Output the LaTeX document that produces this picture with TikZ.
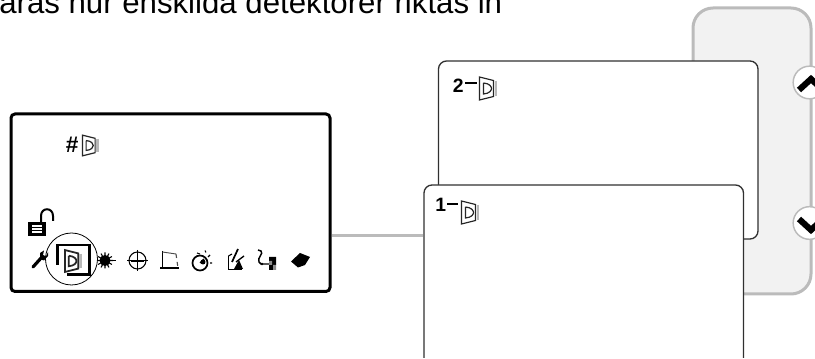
\documentclass[tikz,border=0pt]{standalone}
\usepackage{fontspec}
\setmainfont{Liberation Sans}
\definecolor{panelgray}{HTML}{F2F2F2}
\definecolor{edgegray}{HTML}{BBBBBB}
\definecolor{cardline}{HTML}{303030}
\tikzset{
  px/.style={x=0.75pt,y=-0.75pt},
  panel/.style={draw=black,line width=2.25pt,rounded corners=3pt,fill=white},
  card/.style={draw=cardline,line width=1pt,rounded corners=6pt,fill=white},
  back/.style={draw=edgegray,line width=2.25pt,rounded corners=15pt,fill=panelgray},
  link/.style={draw=edgegray,line width=2.25pt},
  roundbtn/.style={draw=edgegray,line width=1.1pt,fill=white},
  chev/.style={draw=black,line width=4.6pt,line cap=butt,miter limit=10},
  ico/.style={draw=black,line width=0.8pt,fill=none},
  icoh/.style={draw=black,line width=1.9pt,fill=none},
  lbl/.style={inner sep=0pt,font=\bfseries\fontsize{14.5pt}{14.5pt}\selectfont,anchor=base west},
  head/.style={inner sep=0pt,font=\fontsize{23.4pt}{23.4pt}\selectfont,anchor=base west}
}
\newcommand{\detector}[4]{% x,y,scale,line width
  \begin{scope}[shift={(#1,#2)},scale=#3]
    \draw[draw=black!85,line width=#4] (0,-11.5) -- (0,11.5) -- (14,8) -- (14,-8) -- cycle;
    \draw[draw=black!85,line width=#4] (4,-5.5) -- (4,5.5) .. controls (10,5) and (12,2) .. (12,0) .. controls (12,-2) and (10,-5) .. (4,-5.5);
    \draw[draw=black!28,line width=2pt] (16.5,-7.5) -- (16.5,7.5);
  \end{scope}}
\begin{document}
\begin{tikzpicture}[px]
\useasboundingbox (0,0) rectangle (815,359);
\node[head] (title) at (-1,14) {aras hur enskilda detektorer riktas in};
% right stack
\draw[back] (693,8) rectangle (811,294);
\node[roundbtn,circle,minimum size=24.5pt,inner sep=0pt] (up) at (809.5,82.5) {};
\node[roundbtn,circle,minimum size=24.5pt,inner sep=0pt] (down) at (809.5,223) {};
\draw[chev] (799,90) -- (811,79) -- (823,90);
\draw[chev] (799,219) -- (811,230) -- (823,219);
\draw[card] (438.5,61) rectangle (758,239);
\draw[card] (424,358) -- (424,185) -- (743.5,185) -- (743.5,358);
\node[lbl] (two) at (452.5,93) {2};
\node[lbl] (one) at (435,212) {1};
\draw[black,line width=1.5pt] (465,83.5) -- (477,83.5);
\draw[black,line width=1.5pt] (447,204) -- (458,204);
\detector{479.5}{88.5}{1}{0.9pt}
\detector{461.5}{212.5}{1}{0.9pt}
% left panel
\draw[panel] (11,114) rectangle (330,291.5);
\coordinate (linkstart) at (332,236);
\coordinate (linkend) at (423,236);
\draw[link] (linkstart) -- (linkend);
\node[lbl,font=\bfseries\fontsize{17pt}{17pt}\selectfont] (hash) at (65.5,153) {\#};
\detector{82.5}{145.5}{0.9}{0.9pt}
% lock
\fill[black] (28,222) rectangle (46,236);
\draw[white,line width=0.8pt] (32,226) -- (42,226) (32,229) -- (42,229) (32,232) -- (42,232);
\draw[black,line width=1.5pt] (41,222) -- (41,216) .. controls (41,207) and (53,207) .. (53,216) -- (53,221);
% wrench
\draw[black,line width=2.4pt,line cap=round] (33,267) -- (42,257);
\fill[black] (40,259) -- (40,253) -- (44,250.5) -- (43,255) -- (46,256.5) -- (48,252) -- (48,256) -- (44,260.5) -- cycle;
% highlight circle and icon
\draw[black,line width=0.6pt] (71.5,259) circle (26);
\draw[icoh] (57.5,265) -- (57.5,245) -- (89.5,245) -- (89.5,274.5) -- (67,274.5);
\detector{65}{261}{0.95}{1.3pt}
% sun
\fill[black] (105,260.5) circle (5.5);
\draw[black,line width=0.8pt] foreach \a in {0,30,...,330} {(105,260.5) -- ++(\a:8)};
\draw[black,line width=1pt] (105,260.5) -- (116,260.5);
% crosshair
\draw[ico] (137.5,260.5) circle (8.5);
\draw[ico] (127,260.5) -- (148,260.5) (137.5,250) -- (137.5,271);
\draw[black,line width=1.4pt] (131,261) -- (144,261);
% angle
\draw[black,line width=1pt] (162.5,251) -- (162.5,269) (160,268) -- (179,268);
\draw[black!70,line width=0.7pt] (162.5,252) -- (176,254);
\draw[black!70,line width=0.8pt,dashed] (176,254) -- (178,268);
% timer
\draw[black,line width=1.3pt] (200,263) circle (7.5);
\draw[black,line width=1pt] (200,263) -- (204,259);
\fill[black] (203,262) circle (2.5);
\draw[black,line width=0.8pt] (197,253) -- (200,254) (205,250.5) -- (206,252.5) (210,255) -- (208,257) (210,263) -- (212,263);
% pen icon
\draw[ico] (228.5,256) -- (228.5,269.5) -- (242,269.5);
\draw[ico] (228.5,256) -- (232,254);
\draw[black,line width=1.3pt] (232,262) -- (238,249);
\draw[black,line width=1pt] (236,262) -- (244,256);
\fill[black] (234,269) -- (243,269) -- (239,260) -- cycle;
% network
\draw[black,line width=1.1pt] (258,250) -- (261,251) .. controls (264,254) and (257,257) .. (259,262) -- (261,264) -- (269,264);
\fill[black] (262,264) circle (1.4);
\fill[black] (269,257) rectangle (276,261) (272,261) rectangle (276,265) (269,265) rectangle (273,270);
\fill[black!45] (269,261) rectangle (272,265) (273,265) rectangle (276,270);
% book
\fill[black] (291,261.5) -- (300,253) -- (310,257) -- (305,265) -- (298,267.5) -- cycle;
\end{tikzpicture}
\end{document}
